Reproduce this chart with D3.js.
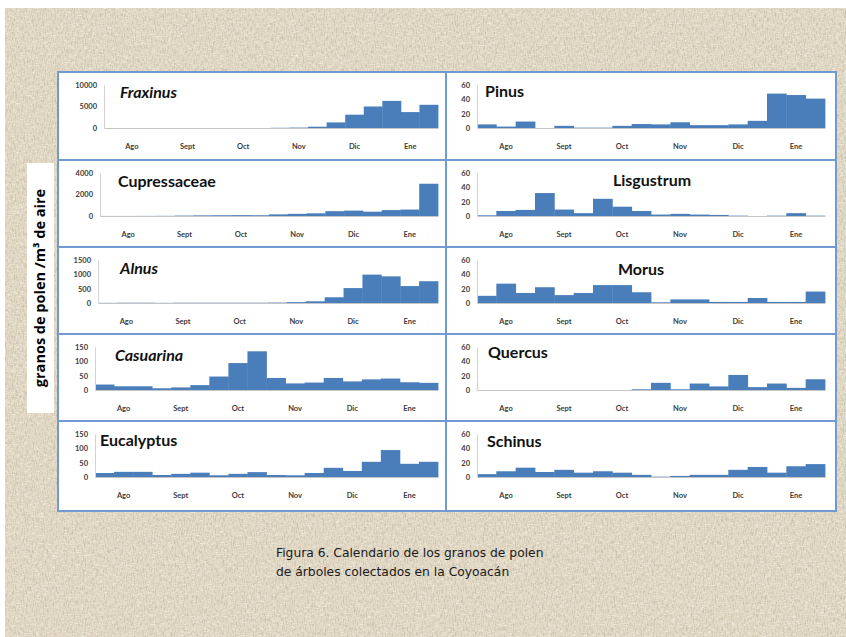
<!DOCTYPE html>
<html>
<head>
<meta charset="utf-8">
<script src="https://cdn.jsdelivr.net/npm/d3@7/dist/d3.min.js"></script>
<style>
  html, body { margin: 0; padding: 0; background: #ffffff; }
  svg { display: block; }
</style>
</head>
<body>
<svg id="chart" width="846" height="637"></svg>
<script>
// Months covered by the sampling, three ten-day periods per month
const months = ["Ago", "Sept", "Oct", "Nov", "Dic", "Ene"];

// Pollen grains / m3 of air for each ten-day period (Aug - Jan)
const fraxinus     = [0, 0, 0, 0, 0, 0, 0, 0, 0, 50, 100, 300, 1300, 3100, 5000, 6300, 3700, 5400];
const cupressaceae = [5, 5, 10, 15, 40, 60, 70, 80, 70, 150, 200, 250, 450, 500, 400, 550, 600, 3000];
const alnus        = [5, 10, 10, 5, 10, 10, 10, 10, 10, 15, 30, 60, 200, 520, 990, 930, 590, 760];
const casuarina    = [19, 13, 13, 6, 9, 17, 47, 94, 135, 42, 23, 26, 42, 30, 37, 40, 27, 25];
const eucalyptus   = [14, 18, 18, 7, 11, 15, 6, 11, 17, 7, 6, 14, 32, 21, 53, 94, 46, 53];
const pinus        = [5, 2, 9, 0, 3, 0.5, 0.5, 3, 5.5, 5, 8, 4, 4, 5, 10, 48, 46, 41];
const lisgustrum   = [1, 7, 8.5, 32, 9, 4, 24, 13, 7, 2, 3, 2, 1.5, 0.5, 0, 0.5, 4, 0.5];
const morus        = [10, 27, 14, 22, 11, 14, 25, 25, 15, 1, 5, 5, 1.5, 1.5, 7, 1.5, 1.5, 16];
const quercus      = [0, 0, 0, 0, 0, 0, 0, 0, 1, 10, 1, 9, 5, 21, 4, 9, 3, 15];
const schinus      = [4, 8, 13, 7, 10, 6, 8, 6, 3, 0.5, 1.5, 3, 3, 10, 14, 6, 15, 18];

// Y-axis ticks per panel
const ticksFraxinus     = [0, 5000, 10000];
const ticksCupressaceae = [0, 2000, 4000];
const ticksAlnus        = [0, 500, 1000, 1500];
const ticksHundreds     = [0, 50, 100, 150];
const ticksSmall        = [0, 20, 40, 60];

const axisLabel = "granos de polen /m\u00B3 de aire";
const caption = ["Figura 6. Calendario de los granos de polen",
                 "de \u00E1rboles colectados en la Coyoac\u00E1n"];

// Panel table: column, row, series, title settings
const panels = [
  { name: "Fraxinus",     values: fraxinus,     ticks: ticksFraxinus,     col: 0, row: 0, italic: true,  tx: 62,  anchor: "start",  ty: 26, axisX: 104 },
  { name: "Cupressaceae", values: cupressaceae, ticks: ticksCupressaceae, col: 0, row: 1, italic: false, tx: 60,  anchor: "start",  ty: 27, axisX: 100 },
  { name: "Alnus",        values: alnus,        ticks: ticksAlnus,        col: 0, row: 2, italic: true,  tx: 62,  anchor: "start",  ty: 27, axisX: 98 },
  { name: "Casuarina",    values: casuarina,    ticks: ticksHundreds,     col: 0, row: 3, italic: true,  tx: 57,  anchor: "start",  ty: 27, axisX: 95 },
  { name: "Eucalyptus",   values: eucalyptus,   ticks: ticksHundreds,     col: 0, row: 4, italic: false, tx: 42,  anchor: "start",  ty: 25, axisX: 95 },
  { name: "Pinus",        values: pinus,        ticks: ticksSmall,        col: 1, row: 0, italic: false, tx: 39,  anchor: "start",  ty: 25, axisX: 477 },
  { name: "Lisgustrum",   values: lisgustrum,   ticks: ticksSmall,        col: 1, row: 1, italic: false, tx: 206, anchor: "middle", ty: 26, axisX: 477 },
  { name: "Morus",        values: morus,        ticks: ticksSmall,        col: 1, row: 2, italic: false, tx: 195, anchor: "middle", ty: 28, axisX: 477 },
  { name: "Quercus",      values: quercus,      ticks: ticksSmall,        col: 1, row: 3, italic: false, tx: 42,  anchor: "start",  ty: 24, axisX: 477 },
  { name: "Schinus",      values: schinus,      ticks: ticksSmall,        col: 1, row: 4, italic: false, tx: 41,  anchor: "start",  ty: 26, axisX: 477 }
];

const svg = d3.select("#chart");

// ---- linen-like backdrop ----
const defs = svg.append("defs");
const linen = defs.append("filter").attr("id", "linen")
  .attr("x", 0).attr("y", 0).attr("width", "100%").attr("height", "100%");
linen.append("feTurbulence").attr("type", "fractalNoise")
  .attr("baseFrequency", "0.9 0.22").attr("numOctaves", 2).attr("seed", 7).attr("result", "n");
linen.append("feColorMatrix").attr("in", "n").attr("type", "matrix")
  .attr("values", "0 0 0 0 0.50  0 0 0 0 0.45  0 0 0 0 0.36  2.6 0 0 0 -1.15");
const specks = defs.append("filter").attr("id", "specks")
  .attr("x", 0).attr("y", 0).attr("width", "100%").attr("height", "100%");
specks.append("feTurbulence").attr("type", "fractalNoise")
  .attr("baseFrequency", "0.25 1.1").attr("numOctaves", 2).attr("seed", 3).attr("result", "n");
specks.append("feColorMatrix").attr("in", "n").attr("type", "matrix")
  .attr("values", "0 0 0 0 0.97  0 0 0 0 0.95  0 0 0 0 0.90  -2.6 0 0 0 1.35");

const bgX = 5, bgY = 8, bgW = 841, bgH = 629;
svg.append("rect").attr("x", bgX).attr("y", bgY).attr("width", bgW).attr("height", bgH)
  .attr("fill", "#e2d8c3");
svg.append("rect").attr("x", bgX).attr("y", bgY).attr("width", bgW).attr("height", bgH)
  .attr("filter", "url(#linen)").attr("opacity", 0.7);
svg.append("rect").attr("x", bgX).attr("y", bgY).attr("width", bgW).attr("height", bgH)
  .attr("filter", "url(#specks)").attr("opacity", 0.6);

// ---- panel grid ----
const colX = [[58, 446], [446, 836]];
const rowY = [72, 160, 247, 334, 421, 511];
const plotRight = [438, 825];

const barColor = "#4a7ebb";
const frameColor = "#6f9bd2";

panels.forEach(p => {
  const x0 = colX[p.col][0], x1 = colX[p.col][1];
  const top = rowY[p.row], bottom = rowY[p.row + 1];
  const g = svg.append("g");

  g.append("rect").attr("x", x0).attr("y", top)
    .attr("width", x1 - x0).attr("height", bottom - top)
    .attr("fill", "#ffffff").attr("stroke", frameColor).attr("stroke-width", 2);

  const yMax = p.ticks[p.ticks.length - 1];
  const y = d3.scaleLinear().domain([0, yMax]).range([top + 56, top + 13]);
  const x = d3.scaleBand().domain(d3.range(p.values.length))
    .range([p.axisX, plotRight[p.col]]).paddingInner(0).paddingOuter(0);
  const xm = d3.scaleBand().domain(months).range([p.axisX, plotRight[p.col]]);

  // bars
  g.append("g").selectAll("rect").data(p.values).join("rect")
    .attr("x", (d, i) => x(i))
    .attr("width", x.bandwidth() + 0.4)
    .attr("y", d => y(d))
    .attr("height", d => y(0) - y(d))
    .attr("fill", barColor);

  // y axis
  const ya = g.append("g").attr("transform", `translate(${p.axisX},0)`)
    .call(d3.axisLeft(y).tickValues(p.ticks).tickFormat(d3.format("d"))
      .tickSize(0).tickPadding(7));
  ya.select(".domain").attr("stroke", "#d2d2d2").attr("stroke-width", 1);
  ya.selectAll("text").attr("font-family", "Lato, sans-serif").attr("font-weight", 700)
    .attr("font-size", 7.5).attr("fill", "#3c3c3c");

  // x axis (months)
  const xa = g.append("g").attr("transform", `translate(0,${y(0)})`)
    .call(d3.axisBottom(xm).tickSize(0).tickPadding(16));
  xa.select(".domain").attr("stroke", "#c4c4c4").attr("stroke-width", 1);
  xa.selectAll("text").attr("font-family", "Lato, sans-serif").attr("font-weight", 700)
    .attr("font-size", 7.5).attr("fill", "#3c3c3c");

  // panel title
  g.append("text").attr("x", x0 + p.tx).attr("y", top + p.ty)
    .attr("text-anchor", p.anchor)
    .attr("font-family", "Lato, sans-serif").attr("font-weight", 700)
    .attr("font-style", p.italic ? "italic" : "normal")
    .attr("font-size", 16).attr("fill", "#111111")
    .text(p.name);
});

// ---- shared y-axis label ----
svg.append("rect").attr("x", 27).attr("y", 163).attr("width", 27).attr("height", 250)
  .attr("fill", "#ffffff");
svg.append("text")
  .attr("transform", "translate(45,288) rotate(-90)")
  .attr("text-anchor", "middle")
  .attr("font-family", "'Open Sans', sans-serif").attr("font-weight", 700)
  .attr("font-size", 14.5).attr("fill", "#000000")
  .text(axisLabel);

// ---- caption ----
svg.append("g").selectAll("text").data(caption).join("text")
  .attr("x", 276).attr("y", (d, i) => 557 + i * 19)
  .attr("font-family", "'DejaVu Sans', sans-serif").attr("font-size", 12.3)
  .attr("fill", "#1a1a1a")
  .text(d => d);
</script>
</body>
</html>
